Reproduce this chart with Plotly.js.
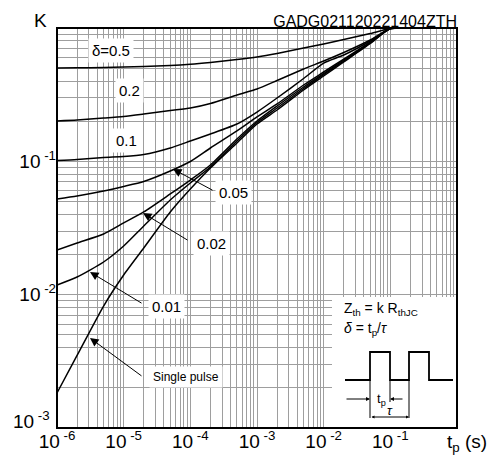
<!DOCTYPE html>
<html>
<head>
<meta charset="utf-8">
<script src="https://cdn.plot.ly/plotly-3.0.1.min.js"></script>
<style>html,body{margin:0;padding:0;background:#fff;}#chart{width:499px;height:455px;}</style>
</head>
<body>
<div id="chart"></div>
<script>
// pulse duration tp (s)
const tp = [1e-6, 2e-6, 5e-6, 1e-5, 2e-5, 5e-5, 1e-4, 2e-4, 5e-4, 1e-3, 2e-3, 5e-3, 1e-2, 2e-2, 5e-2, 0.1, 0.2, 0.5, 1];
// normalized thermal impedance K for each duty cycle
const k050 = [0.501, 0.503, 0.506, 0.510, 0.514, 0.523, 0.534, 0.551, 0.580, 0.606, 0.644, 0.708, 0.759, 0.820, 0.909, 0.99, 1.0, 1.0, 1.0];
const k020 = [0.2007, 0.204, 0.211, 0.217, 0.2265, 0.2405, 0.251, 0.2715, 0.3145, 0.349, 0.404, 0.4925, 0.5655, 0.655, 0.813, 0.99, 1.0, 1.0, 1.0];
const k010 = [0.1014, 0.1032, 0.1069, 0.1087, 0.1125, 0.1259, 0.1420, 0.1603, 0.1905, 0.2344, 0.2985, 0.4180, 0.5460, 0.6270, 0.799, 0.99, 1.0, 1.0, 1.0];
const k005 = [0.0522, 0.0550, 0.0599, 0.0648, 0.0706, 0.0846, 0.0997, 0.1259, 0.1689, 0.2151, 0.2692, 0.3737, 0.4677, 0.5854, 0.785, 0.99, 1.0, 1.0, 1.0];
const k002 = [0.02163, 0.0244, 0.0285, 0.0345, 0.0417, 0.0569, 0.0724, 0.0939, 0.1470, 0.2007, 0.2600, 0.361, 0.4557, 0.5754, 0.778, 0.99, 1.0, 1.0, 1.0];
const k001 = [0.01182, 0.01357, 0.01758, 0.02317, 0.03273, 0.0513, 0.0688, 0.0907, 0.1420, 0.1955, 0.2512, 0.3517, 0.4479, 0.5655, 0.772, 0.99, 1.0, 1.0, 1.0];
const kSingle = [0.00183, 0.0035, 0.00822, 0.01404, 0.02239, 0.0417, 0.0620, 0.0891, 0.1372, 0.1905, 0.2427, 0.3428, 0.4365, 0.5559, 0.765, 0.99, 1.0, 1.0, 1.0];

const series = [k050, k020, k010, k005, k002, k001, kSingle];
const seriesNames = ['δ=0.5', '0.2', '0.1', '0.05', '0.02', '0.01', 'Single pulse'];

const xTickVals = [1e-6, 1e-5, 1e-4, 1e-3, 1e-2, 1e-1];
const xTickText = ['10<sup> -6</sup>', '10<sup> -5</sup>', '10<sup> -4</sup>', '10<sup> -3</sup>', '10<sup> -2</sup>', '10<sup> -1</sup>'];
const yTickVals = [1e-1, 1e-2];
const yTickText = ['10<sup> -1</sup>', '10<sup> -2</sup>'];

const FONT = 'Arial, "Liberation Sans", "DejaVu Sans", sans-serif';
const GRID = '#9e9e9e';

const traces = series.map((ys, i) => ({
  x: tp, y: ys, type: 'scatter', mode: 'lines', name: seriesNames[i],
  line: {color: '#000', width: 1.5, shape: 'spline', smoothing: 0.6},
  hoverinfo: 'skip'
}));

// curve labels (positions in log units)
const labels = [
  {t: 'δ=0.5', x: -5.19, y: -0.165, s: 15},
  {t: '0.2', x: -4.92, y: -0.465, s: 15},
  {t: '0.1', x: -4.965, y: -0.84, s: 15},
  {t: '0.05', x: -3.36, y: -1.23, s: 15},
  {t: '0.02', x: -3.69, y: -1.6125, s: 15},
  {t: '0.01', x: -4.365, y: -2.085, s: 15},
  {t: 'Single pulse', x: -4.065, y: -2.6175, s: 12}
];
const arrows = [
  {x: -4.26, y: -1.0575, ax: -3.645, ay: -1.2225},
  {x: -4.71, y: -1.3875, ax: -4.02, ay: -1.5975},
  {x: -5.505, y: -1.83, ax: -4.71, ay: -2.07},
  {x: -5.505, y: -2.325, ax: -4.71, ay: -2.6175}
];

const annotations = [];
arrows.forEach(a => annotations.push({
  x: a.x, y: a.y, xref: 'x', yref: 'y', ax: a.ax, ay: a.ay, axref: 'x', ayref: 'y',
  text: '', showarrow: true, arrowhead: 2, arrowsize: 1.7, arrowwidth: 1, arrowcolor: '#000', standoff: 0
}));
labels.forEach(l => annotations.push({
  x: l.x, y: l.y, xref: 'x', yref: 'y', xanchor: 'center', yanchor: 'middle', text: l.t, showarrow: false,
  font: {family: FONT, size: l.s, color: '#000'}, bgcolor: '#fff', borderpad: 3
}));
function pText(text, x, y, size, xa, ya) {
  annotations.push({x: x, y: y, xref: 'paper', yref: 'paper', xanchor: xa || 'center', yanchor: ya || 'middle',
    text: text, showarrow: false, font: {family: FONT, size: size, color: '#000'}});
}
// axis labels
pText('K', -0.0425, 1.0175, 19);
pText('t<sub>p</sub> (s)', 1.025, -0.0375, 19);
pText('10<sup> -3</sup>', -0.0125, 0.02, 19, 'right');
// inset formulas
pText('Z<sub>th</sub> = k R<sub>thJC</sub>', 0.7125, 0.2975, 14, 'left');
pText('<i>δ</i> = t<sub>p</sub>/<i>τ</i>', 0.7125, 0.2475, 14, 'left');
pText('t<sub>p</sub>', 0.81, 0.072, 13);
pText('<i>τ</i>', 0.8325, 0.045, 13);
// dimension arrows in inset
annotations.push({x: 0.7825, y: 0.0725, xref: 'paper', yref: 'paper', ax: -25, ay: 0, text: '', showarrow: true,
  arrowhead: 2, arrowsize: 0.8, arrowwidth: 1, arrowcolor: '#000', standoff: 0});
annotations.push({x: 0.8325, y: 0.0725, xref: 'paper', yref: 'paper', ax: 14, ay: 0, text: '', showarrow: true,
  arrowhead: 2, arrowsize: 0.8, arrowwidth: 1, arrowcolor: '#000', standoff: 0});
annotations.push({x: 0.88, y: 0.0275, xref: 'paper', yref: 'paper', ax: -39, ay: 0, text: '', showarrow: true,
  arrowhead: 2, arrowside: 'end+start', arrowsize: 0.6, arrowwidth: 1, arrowcolor: '#000', standoff: 0});

const shapes = [
  {type: 'rect', xref: 'paper', yref: 'paper', x0: 0.6875, x1: 1, y0: 0, y1: 0.3275, fillcolor: '#fff', line: {width: 0}, layer: 'above'},
  {type: 'path', xref: 'paper', yref: 'paper', layer: 'above', line: {color: '#000', width: 1.8},
   path: 'M0.72,0.12 L0.7825,0.12 L0.7825,0.19 L0.8325,0.19 L0.8325,0.12 L0.88,0.12 L0.88,0.19 L0.93,0.19 L0.93,0.12 L0.99,0.12'},
  {type: 'line', xref: 'paper', yref: 'paper', layer: 'above', x0: 0.7825, x1: 0.7825, y0: 0.12, y1: 0.025, line: {color: '#000', width: 1}},
  {type: 'line', xref: 'paper', yref: 'paper', layer: 'above', x0: 0.8325, x1: 0.8325, y0: 0.12, y1: 0.065, line: {color: '#000', width: 1}},
  {type: 'line', xref: 'paper', yref: 'paper', layer: 'above', x0: 0.88, x1: 0.88, y0: 0.12, y1: 0.025, line: {color: '#000', width: 1}},
  {type: 'rect', xref: 'paper', yref: 'paper', x0: 0, x1: 1, y0: 0, y1: 1, line: {color: '#000', width: 2}, layer: 'above'}
];

const layout = {
  width: 499, height: 455,
  margin: {l: 57, r: 42, t: 28, b: 27},
  paper_bgcolor: '#fff', plot_bgcolor: '#fff',
  showlegend: false,
  font: {family: FONT, color: '#000'},
  title: {text: 'GADG021120221404ZTH', font: {family: FONT, size: 16, color: '#000'},
    xref: 'paper', x: 1, xanchor: 'right', yref: 'paper', y: 1, yanchor: 'bottom', pad: {b: 1}},
  xaxis: {type: 'log', range: [-6, 0], tickmode: 'array', tickvals: xTickVals, ticktext: xTickText,
    ticks: '', showline: false, zeroline: false, showgrid: true, gridcolor: GRID, gridwidth: 1,
    tickfont: {family: FONT, size: 19, color: '#000'},
    minor: {dtick: 'D1', showgrid: true, gridcolor: GRID, gridwidth: 1, ticks: ''}},
  yaxis: {type: 'log', range: [-3, 0], tickmode: 'array', tickvals: yTickVals, ticktext: yTickText,
    ticks: '', showline: false, zeroline: false, showgrid: true, gridcolor: GRID, gridwidth: 1,
    tickfont: {family: FONT, size: 19, color: '#000'},
    minor: {dtick: 'D1', showgrid: true, gridcolor: GRID, gridwidth: 1, ticks: ''}},
  annotations: annotations,
  shapes: shapes
};

Plotly.newPlot('chart', traces, layout, {displayModeBar: false, staticPlot: true});
</script>
</body>
</html>
